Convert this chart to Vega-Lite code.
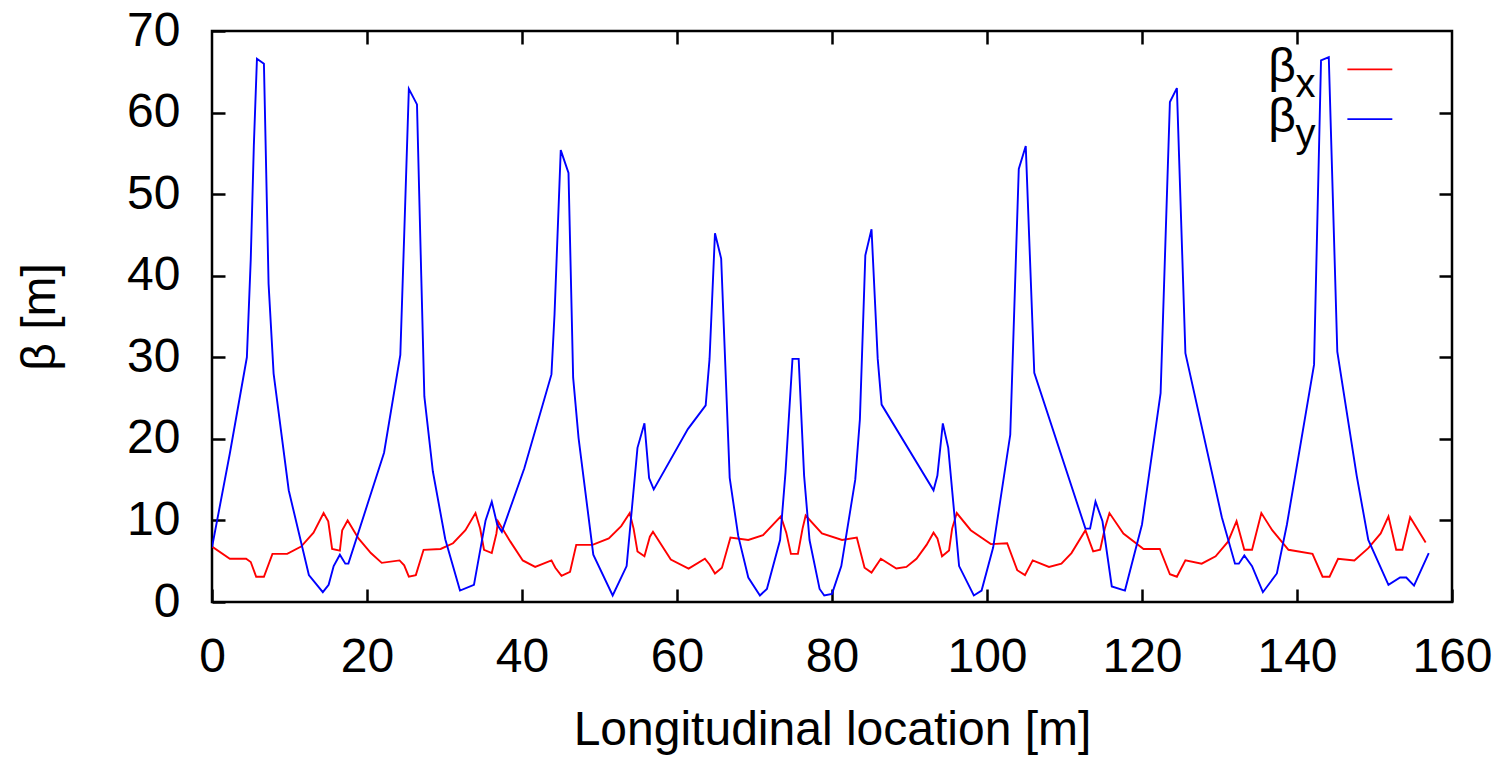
{
  "$schema": "https://vega.github.io/schema/vega-lite/v6.json",
  "autosize": {"type": "none"},
  "width": 1240,
  "height": 571,
  "padding": {"left": 212, "top": 31, "right": 53, "bottom": 155},
  "background": "white",
  "datasets": {
    "beta": [
      {"s":0,"b":6.8,"c":"βx"},{"s":2.3,"b":5.3,"c":"βx"},{"s":4.4,"b":5.3,"c":"βx"},{"s":5.0,"b":4.9,"c":"βx"},{"s":5.7,"b":3.1,"c":"βx"},{"s":6.7,"b":3.1,"c":"βx"},{"s":7.8,"b":5.9,"c":"βx"},{"s":9.7,"b":5.9,"c":"βx"},{"s":11.5,"b":6.8,"c":"βx"},{"s":13.1,"b":8.5,"c":"βx"},{"s":14.4,"b":10.9,"c":"βx"},{"s":15.0,"b":9.9,"c":"βx"},{"s":15.5,"b":6.5,"c":"βx"},{"s":16.5,"b":6.3,"c":"βx"},{"s":16.8,"b":8.8,"c":"βx"},{"s":17.5,"b":10.0,"c":"βx"},{"s":18.9,"b":7.8,"c":"βx"},{"s":20.5,"b":6.0,"c":"βx"},{"s":21.9,"b":4.8,"c":"βx"},{"s":24.2,"b":5.1,"c":"βx"},{"s":24.8,"b":4.5,"c":"βx"},{"s":25.4,"b":3.1,"c":"βx"},{"s":26.3,"b":3.3,"c":"βx"},{"s":27.3,"b":6.4,"c":"βx"},{"s":29.5,"b":6.5,"c":"βx"},{"s":31.1,"b":7.2,"c":"βx"},{"s":32.7,"b":8.8,"c":"βx"},{"s":34.0,"b":10.9,"c":"βx"},{"s":34.6,"b":9.0,"c":"βx"},{"s":35.1,"b":6.4,"c":"βx"},{"s":36.1,"b":6.0,"c":"βx"},{"s":36.7,"b":8.4,"c":"βx"},{"s":36.9,"b":9.9,"c":"βx"},{"s":38.5,"b":7.4,"c":"βx"},{"s":40.1,"b":5.1,"c":"βx"},{"s":41.7,"b":4.3,"c":"βx"},{"s":43.8,"b":5.1,"c":"βx"},{"s":44.3,"b":4.2,"c":"βx"},{"s":45.1,"b":3.2,"c":"βx"},{"s":46.2,"b":3.7,"c":"βx"},{"s":47.0,"b":7.0,"c":"βx"},{"s":49.1,"b":7.0,"c":"βx"},{"s":51.2,"b":7.8,"c":"βx"},{"s":52.8,"b":9.3,"c":"βx"},{"s":53.9,"b":10.9,"c":"βx"},{"s":54.4,"b":9.0,"c":"βx"},{"s":54.9,"b":6.2,"c":"βx"},{"s":55.8,"b":5.6,"c":"βx"},{"s":56.5,"b":8.0,"c":"βx"},{"s":56.9,"b":8.6,"c":"βx"},{"s":59.2,"b":5.2,"c":"βx"},{"s":61.5,"b":4.1,"c":"βx"},{"s":63.6,"b":5.3,"c":"βx"},{"s":64.2,"b":4.6,"c":"βx"},{"s":64.9,"b":3.5,"c":"βx"},{"s":65.8,"b":4.2,"c":"βx"},{"s":66.9,"b":7.9,"c":"βx"},{"s":69.2,"b":7.6,"c":"βx"},{"s":71.1,"b":8.2,"c":"βx"},{"s":73.4,"b":10.5,"c":"βx"},{"s":74.1,"b":8.5,"c":"βx"},{"s":74.7,"b":5.9,"c":"βx"},{"s":75.6,"b":5.9,"c":"βx"},{"s":76.2,"b":9.0,"c":"βx"},{"s":76.6,"b":10.6,"c":"βx"},{"s":78.7,"b":8.4,"c":"βx"},{"s":81.3,"b":7.6,"c":"βx"},{"s":83.2,"b":7.9,"c":"βx"},{"s":84.2,"b":4.2,"c":"βx"},{"s":85.1,"b":3.6,"c":"βx"},{"s":86.3,"b":5.3,"c":"βx"},{"s":88.3,"b":4.1,"c":"βx"},{"s":89.6,"b":4.3,"c":"βx"},{"s":90.9,"b":5.3,"c":"βx"},{"s":92.2,"b":7.0,"c":"βx"},{"s":93.1,"b":8.5,"c":"βx"},{"s":93.6,"b":7.8,"c":"βx"},{"s":94.2,"b":5.6,"c":"βx"},{"s":95.1,"b":6.3,"c":"βx"},{"s":95.5,"b":9.0,"c":"βx"},{"s":96.1,"b":10.9,"c":"βx"},{"s":97.9,"b":8.8,"c":"βx"},{"s":100.5,"b":7.1,"c":"βx"},{"s":102.6,"b":7.2,"c":"βx"},{"s":103.9,"b":3.9,"c":"βx"},{"s":104.9,"b":3.3,"c":"βx"},{"s":105.9,"b":5.1,"c":"βx"},{"s":108.0,"b":4.3,"c":"βx"},{"s":109.6,"b":4.7,"c":"βx"},{"s":110.9,"b":6.0,"c":"βx"},{"s":112.7,"b":8.8,"c":"βx"},{"s":113.2,"b":7.5,"c":"βx"},{"s":113.7,"b":6.2,"c":"βx"},{"s":114.6,"b":6.4,"c":"βx"},{"s":115.2,"b":9.0,"c":"βx"},{"s":115.8,"b":10.9,"c":"βx"},{"s":117.6,"b":8.4,"c":"βx"},{"s":120.2,"b":6.5,"c":"βx"},{"s":122.3,"b":6.5,"c":"βx"},{"s":123.6,"b":3.4,"c":"βx"},{"s":124.5,"b":3.1,"c":"βx"},{"s":125.6,"b":5.1,"c":"βx"},{"s":127.7,"b":4.7,"c":"βx"},{"s":129.5,"b":5.6,"c":"βx"},{"s":131.1,"b":7.4,"c":"βx"},{"s":132.2,"b":9.9,"c":"βx"},{"s":133.2,"b":6.4,"c":"βx"},{"s":134.2,"b":6.4,"c":"βx"},{"s":135.4,"b":10.9,"c":"βx"},{"s":136.8,"b":8.8,"c":"βx"},{"s":138.9,"b":6.4,"c":"βx"},{"s":142.0,"b":5.9,"c":"βx"},{"s":143.3,"b":3.1,"c":"βx"},{"s":144.2,"b":3.1,"c":"βx"},{"s":145.3,"b":5.3,"c":"βx"},{"s":147.4,"b":5.1,"c":"βx"},{"s":149.2,"b":6.6,"c":"βx"},{"s":150.8,"b":8.4,"c":"βx"},{"s":151.8,"b":10.5,"c":"βx"},{"s":152.8,"b":6.4,"c":"βx"},{"s":153.6,"b":6.4,"c":"βx"},{"s":154.6,"b":10.4,"c":"βx"},{"s":156.6,"b":7.3,"c":"βx"},
      {"s":0,"b":6.7,"c":"βy"},{"s":2.3,"b":18.2,"c":"βy"},{"s":4.5,"b":30,"c":"βy"},{"s":5.0,"b":42,"c":"βy"},{"s":5.4,"b":56,"c":"βy"},{"s":5.8,"b":66.6,"c":"βy"},{"s":6.7,"b":66.0,"c":"βy"},{"s":7.3,"b":39,"c":"βy"},{"s":7.95,"b":28,"c":"βy"},{"s":9.9,"b":13.7,"c":"βy"},{"s":12.5,"b":3.3,"c":"βy"},{"s":14.3,"b":1.2,"c":"βy"},{"s":15.05,"b":2.1,"c":"βy"},{"s":15.7,"b":4.4,"c":"βy"},{"s":16.5,"b":5.8,"c":"βy"},{"s":17.2,"b":4.7,"c":"βy"},{"s":17.6,"b":4.7,"c":"βy"},{"s":20.0,"b":11.8,"c":"βy"},{"s":22.2,"b":18.3,"c":"βy"},{"s":24.3,"b":30.3,"c":"βy"},{"s":24.8,"b":45,"c":"βy"},{"s":25.4,"b":62.9,"c":"βy"},{"s":26.45,"b":61,"c":"βy"},{"s":27.0,"b":40,"c":"βy"},{"s":27.4,"b":25.2,"c":"βy"},{"s":28.5,"b":16,"c":"βy"},{"s":30.1,"b":7.7,"c":"βy"},{"s":32.0,"b":1.4,"c":"βy"},{"s":33.8,"b":2.1,"c":"βy"},{"s":35.3,"b":10,"c":"βy"},{"s":36.1,"b":12.3,"c":"βy"},{"s":36.8,"b":9.5,"c":"βy"},{"s":37.4,"b":8.6,"c":"βy"},{"s":40.3,"b":16.4,"c":"βy"},{"s":43.8,"b":27.9,"c":"βy"},{"s":44.2,"b":35.3,"c":"βy"},{"s":45.0,"b":55.4,"c":"βy"},{"s":46.0,"b":52.6,"c":"βy"},{"s":46.6,"b":27.5,"c":"βy"},{"s":47.3,"b":20.1,"c":"βy"},{"s":49.2,"b":5.8,"c":"βy"},{"s":51.7,"b":0.8,"c":"βy"},{"s":53.5,"b":4.4,"c":"βy"},{"s":54.9,"b":18.9,"c":"βy"},{"s":55.8,"b":21.9,"c":"βy"},{"s":56.4,"b":15.2,"c":"βy"},{"s":57.0,"b":13.8,"c":"βy"},{"s":61.4,"b":21.2,"c":"βy"},{"s":63.7,"b":24.1,"c":"βy"},{"s":64.2,"b":29.8,"c":"βy"},{"s":64.9,"b":45.2,"c":"βy"},{"s":65.7,"b":42.1,"c":"βy"},{"s":66.8,"b":15.2,"c":"βy"},{"s":67.9,"b":8.1,"c":"βy"},{"s":69.2,"b":3.0,"c":"βy"},{"s":70.7,"b":0.8,"c":"βy"},{"s":71.6,"b":1.6,"c":"βy"},{"s":73.3,"b":7.6,"c":"βy"},{"s":74.0,"b":15.9,"c":"βy"},{"s":74.9,"b":29.8,"c":"βy"},{"s":75.7,"b":29.8,"c":"βy"},{"s":76.4,"b":15.5,"c":"βy"},{"s":77.1,"b":7.6,"c":"βy"},{"s":78.4,"b":1.6,"c":"βy"},{"s":79.0,"b":0.8,"c":"βy"},{"s":80.0,"b":1.0,"c":"βy"},{"s":81.2,"b":4.4,"c":"βy"},{"s":83.0,"b":15,"c":"βy"},{"s":83.6,"b":22.4,"c":"βy"},{"s":84.3,"b":42.5,"c":"βy"},{"s":85.1,"b":45.7,"c":"βy"},{"s":85.9,"b":29.8,"c":"βy"},{"s":86.4,"b":24.2,"c":"βy"},{"s":93.1,"b":13.7,"c":"βy"},{"s":93.6,"b":15.5,"c":"βy"},{"s":94.3,"b":21.9,"c":"βy"},{"s":95.0,"b":18.9,"c":"βy"},{"s":96.4,"b":4.4,"c":"βy"},{"s":98.3,"b":0.8,"c":"βy"},{"s":99.3,"b":1.4,"c":"βy"},{"s":100.8,"b":6.7,"c":"βy"},{"s":103.0,"b":20.5,"c":"βy"},{"s":104.1,"b":53.1,"c":"βy"},{"s":105.0,"b":55.9,"c":"βy"},{"s":106.1,"b":28.1,"c":"βy"},{"s":112.7,"b":9.0,"c":"βy"},{"s":113.3,"b":9.0,"c":"βy"},{"s":114.0,"b":12.3,"c":"βy"},{"s":114.9,"b":9.9,"c":"βy"},{"s":116.1,"b":1.9,"c":"βy"},{"s":117.8,"b":1.4,"c":"βy"},{"s":120.0,"b":9.5,"c":"βy"},{"s":122.4,"b":25.6,"c":"βy"},{"s":123.6,"b":61.3,"c":"βy"},{"s":124.5,"b":63.0,"c":"βy"},{"s":125.6,"b":30.5,"c":"βy"},{"s":130.3,"b":10.4,"c":"βy"},{"s":132.0,"b":4.7,"c":"βy"},{"s":132.5,"b":4.7,"c":"βy"},{"s":133.2,"b":5.7,"c":"βy"},{"s":134.2,"b":4.4,"c":"βy"},{"s":135.6,"b":1.2,"c":"βy"},{"s":137.4,"b":3.5,"c":"βy"},{"s":138.7,"b":9.5,"c":"βy"},{"s":142.2,"b":29.1,"c":"βy"},{"s":143.1,"b":66.4,"c":"βy"},{"s":144.1,"b":66.8,"c":"βy"},{"s":145.2,"b":30.7,"c":"βy"},{"s":147.7,"b":15.5,"c":"βy"},{"s":149.2,"b":7.6,"c":"βy"},{"s":151.8,"b":2.1,"c":"βy"},{"s":153.3,"b":3.0,"c":"βy"},{"s":154.1,"b":3.0,"c":"βy"},{"s":155.1,"b":2.0,"c":"βy"},{"s":157.0,"b":6.0,"c":"βy"}
    ],
    "one": [{}]
  },
  "resolve": {"axis": {"x": "independent", "y": "independent"}},
  "layer": [
    {
      "data": {"name": "beta"},
      "mark": {"type": "line", "strokeWidth": 1.9, "clip": true},
      "encoding": {
        "x": {"field": "s", "type": "quantitative",
              "scale": {"domain": [0, 160], "nice": false, "zero": false},
              "axis": {"orient": "bottom", "title": "Longitudinal location [m]",
                       "values": [0, 20, 40, 60, 80, 100, 120, 140, 160],
                       "offset": -13, "domain": false,
                       "tickSize": 13, "labelPadding": 31, "labelDx": 7,
                       "titleY": 155, "titleBaseline": "alphabetic"}},
        "y": {"field": "b", "type": "quantitative",
              "scale": {"domain": [0, 70], "nice": false, "zero": false},
              "axis": {"orient": "left", "title": "β [m]",
                       "values": [0, 10, 20, 30, 40, 50, 60, 70],
                       "offset": -13, "domain": false,
                       "tickSize": 13, "labelPadding": 32,
                       "titleX": -185, "titleY": 285.5, "titleBaseline": "middle", "titleAngle": -90}},
        "color": {"field": "c", "type": "nominal",
                  "scale": {"domain": ["βx", "βy"], "range": ["#ff0000", "#0000ff"]},
                  "legend": null}
      }
    },
    {
      "data": {"name": "one"},
      "mark": {"type": "rule", "color": "#ff0000", "strokeWidth": 1.9},
      "encoding": {
        "x": {"datum": 146.5, "type": "quantitative",
              "axis": {"orient": "top", "labels": false, "title": null, "domain": false,
                       "offset": -13, "tickSize": 13,
                       "values": [20, 40, 60, 80, 100, 120, 140]}},
        "x2": {"datum": 152.3},
        "y": {"datum": 65.3, "type": "quantitative",
              "axis": {"orient": "right", "labels": false, "title": null, "domain": false,
                       "offset": -13, "tickSize": 13,
                       "values": [10, 20, 30, 40, 50, 60]}}
      }
    },
    {
      "data": {"name": "one"},
      "mark": {"type": "rule", "color": "#0000ff", "strokeWidth": 1.9},
      "encoding": {
        "x": {"datum": 146.5, "type": "quantitative", "axis": null},
        "x2": {"datum": 152.3},
        "y": {"datum": 59.2, "type": "quantitative", "axis": null}
      }
    },
    {
      "data": {"name": "one"},
      "mark": {"type": "text", "text": "β", "font": "Liberation Sans", "fontSize": 48, "align": "left", "baseline": "alphabetic", "color": "black"},
      "encoding": {
        "x": {"datum": 136.3, "type": "quantitative", "axis": null},
        "y": {"datum": 63.75, "type": "quantitative", "axis": null}
      }
    },
    {
      "data": {"name": "one"},
      "mark": {"type": "text", "text": "x", "font": "Liberation Sans", "fontSize": 40, "align": "left", "baseline": "alphabetic", "color": "black"},
      "encoding": {
        "x": {"datum": 139.8, "type": "quantitative", "axis": null},
        "y": {"datum": 61.9, "type": "quantitative", "axis": null}
      }
    },
    {
      "data": {"name": "one"},
      "mark": {"type": "text", "text": "β", "font": "Liberation Sans", "fontSize": 48, "align": "left", "baseline": "alphabetic", "color": "black"},
      "encoding": {
        "x": {"datum": 136.3, "type": "quantitative", "axis": null},
        "y": {"datum": 57.6, "type": "quantitative", "axis": null}
      }
    },
    {
      "data": {"name": "one"},
      "mark": {"type": "text", "text": "y", "font": "Liberation Sans", "fontSize": 40, "align": "left", "baseline": "alphabetic", "color": "black"},
      "encoding": {
        "x": {"datum": 139.8, "type": "quantitative", "axis": null},
        "y": {"datum": 55.8, "type": "quantitative", "axis": null}
      }
    }
  ],
  "config": {
    "view": {"stroke": "black", "strokeWidth": 2.5},
    "axis": {
      "grid": false,
      "ticks": true,
      "tickColor": "black",
      "tickWidth": 2.5,
      "labelFont": "Liberation Sans",
      "labelFontSize": 48,
      "labelColor": "black",
      "labelFlush": false,
      "labelOverlap": false,
      "titleFont": "Liberation Sans",
      "titleFontSize": 48,
      "titleFontWeight": "normal",
      "titleColor": "black"
    }
  }
}
